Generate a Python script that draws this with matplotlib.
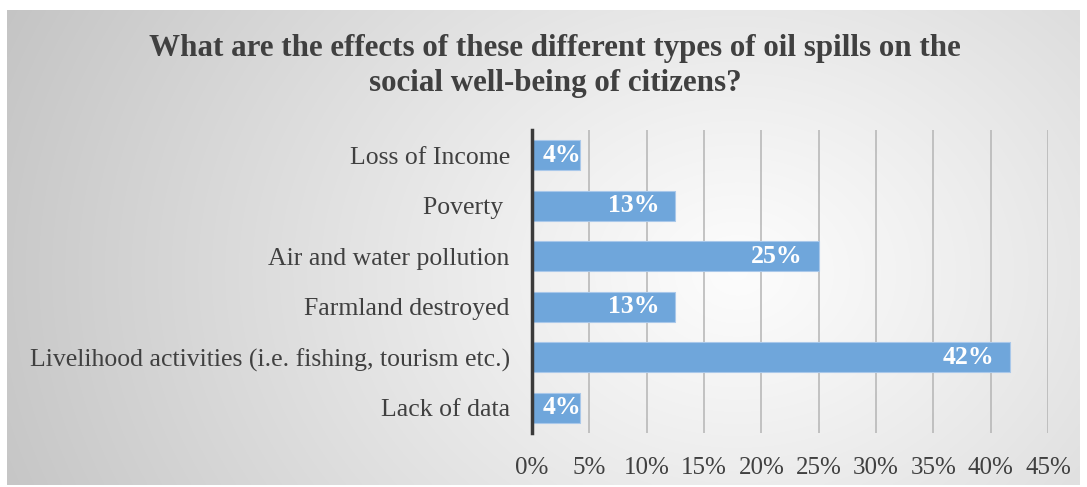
import numpy as np
import matplotlib
matplotlib.use("Agg")
import matplotlib.pyplot as plt
from matplotlib.transforms import offset_copy

categories = ["Loss of Income", "Poverty ", "Air and water pollution", "Farmland destroyed",
              "Livelihood activities (i.e. fishing, tourism etc.)", "Lack of data"]
values = [4.17, 12.5, 25.0, 12.5, 41.67, 4.17]
labels = ["4%", "13%", "25%", "13%", "42%", "4%"]
xticks = [0, 5, 10, 15, 20, 25, 30, 35, 40, 45]
xticklabels = [f"{t}%" for t in xticks]
title = "What are the effects of these different types of oil spills on the\nsocial well-being of citizens?"

plt.rcParams['font.family'] = ['Liberation Serif', 'DejaVu Serif']

W, H = 1087, 487
fig = plt.figure(figsize=(W / 100, H / 100), dpi=100)
fig.patch.set_facecolor('white')

# gradient background of chart area
bx0, by0, bx1, by1 = 7, 10, 1080, 485  # pixels from top-left
bg = fig.add_axes([bx0 / W, 1 - by1 / H, (bx1 - bx0) / W, (by1 - by0) / H], zorder=0)
ny, nx = 200, 400
yy, xx = np.mgrid[0:ny, 0:nx]
cx, cy = nx * 0.68, ny * 0.55
d = np.sqrt(((xx - cx) / nx) ** 2 + ((yy - cy) / ny * 0.55) ** 2)
d = d / d.max()
v = 0.99 - 0.22 * d ** 1.1
img = np.dstack([v, v, v])
bg.imshow(img, aspect='auto', extent=[0, 1, 0, 1], interpolation='bilinear')
bg.set_axis_off()

ax = fig.add_axes([532 / W, 1 - 433 / H, (1048 - 532) / W, (433 - 130) / H], zorder=1)
ax.patch.set_alpha(0)
y = np.arange(len(categories))
bars = ax.barh(y, values, height=0.6, color='#6fa6db', edgecolor='#a9c8ea', linewidth=0.8, zorder=3)
ax.set_ylim(len(categories) - 0.5, -0.5)
ax.set_xlim(0, 45)
ax.set_xticks(xticks)
ax.set_xticklabels(xticklabels, fontsize=18, color='#404040')
ax.set_yticks(y)
ax.set_yticklabels(categories, fontsize=18.5, color='#404040')
ax.tick_params(axis='both', length=0)
ax.tick_params(axis='x', pad=17)
ax.tick_params(axis='y', pad=16)
ax.xaxis.grid(True, color='#b4b4b4', linewidth=1.1, zorder=0)
for s in ['top', 'right', 'bottom']:
    ax.spines[s].set_visible(False)
ax.spines['left'].set_color('#3a3a3a')
ax.spines['left'].set_linewidth(2.5)
ax.spines['left'].set_zorder(4)

for bar, val, lab in zip(bars, values, labels):
    yc = bar.get_y() + bar.get_height() / 2
    tr_r = offset_copy(ax.transData, fig=fig, x=-16, y=0, units='dots')
    t = ax.text(val, yc, lab, transform=tr_r, ha='right', va='center', color='white',
                fontsize=18.5, fontweight='bold', zorder=5)
    fig.canvas.draw()
    ext = t.get_window_extent()
    x0 = ax.transData.transform((0, 0))[0]
    if ext.x0 < x0 + 5:
        t.remove()
        tr_l = offset_copy(ax.transData, fig=fig, x=11, y=0, units='dots')
        t = ax.text(0, yc, lab, transform=tr_l, ha='left', va='center', color='white',
                    fontsize=18.5, fontweight='bold', zorder=5)
    t.set_clip_path(bar)

fig.text(555 / W, 1 - 66 / H, title, ha='center', va='center', fontsize=22.3,
         fontweight='bold', color='#404040', linespacing=1.3, zorder=2)

fig.savefig('out.png', dpi=100)
